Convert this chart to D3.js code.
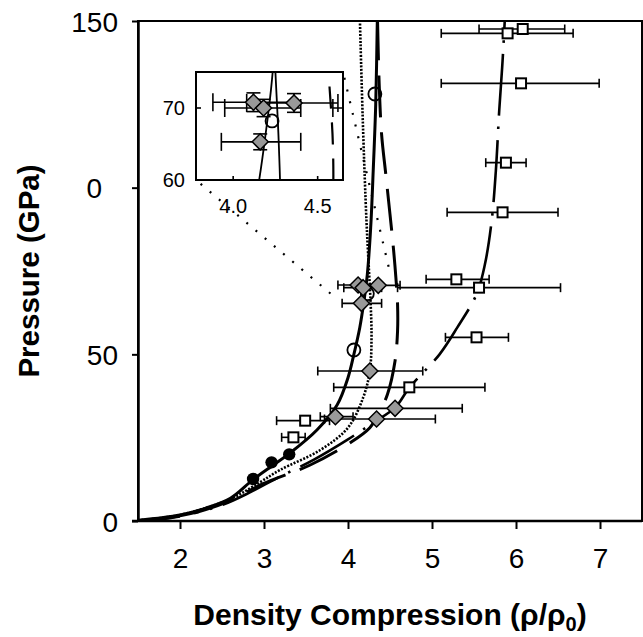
<!DOCTYPE html>
<html><head><meta charset="utf-8">
<script src="https://cdn.jsdelivr.net/npm/d3@7"></script>
<style>body{margin:0;background:#fff} text{font-family:"Liberation Sans",Arial,Helvetica,sans-serif;fill:#000}</style>
</head><body><svg id="c" width="643" height="637"></svg>
<script>
// ---------- data ----------
const xTicks = [2, 3, 4, 5, 6, 7];
const yTicks = [0, 50, 100, 150];
const yTickLabels = ["0", "50", "0", "150"];
const insetXTicks = [4.0, 4.5];
const insetXTickLabels = ["4.0", "4.5"];
const insetYTicks = [60, 70];
const insetYTickLabels = ["60", "70"];

// model curves [density, pressure]
const curveSolid = [[1.5,0.2],[2.0,1.8],[2.3,3.8],[2.6,6.8],[2.87,12.4],[3.1,16.6],[3.3,20.2],[3.63,27.3],[3.87,34.8],[4.0,43],[4.07,50],[4.14,58],[4.19,66],[4.23,74],[4.27,88],[4.30,105],[4.33,125],[4.35,152]];
const curveDotted = [[1.5,0.2],[2.0,1.8],[2.6,6.6],[2.95,11.6],[3.19,15.3],[3.67,21.3],[4.0,28],[4.18,37],[4.26,45],[4.28,55],[4.27,65],[4.25,75],[4.22,90],[4.18,117],[4.14,152]];
const curveLongDash = [[1.5,0],[2.0,1.4],[2.55,5.6],[2.99,11.2],[3.55,16.8],[4.02,23.4],[4.26,28],[4.38,33],[4.47,38],[4.56,48],[4.59,57],[4.59,65],[4.57,73],[4.54,82],[4.50,92],[4.45,104],[4.40,116],[4.37,132],[4.35,152]];
const curveDashDot = [[1.5,0],[2.0,1.5],[2.5,4.8],[2.85,8.8],[3.15,12.8],[3.6,18.5],[4.0,24.5],[4.3,29.5],[4.56,34],[4.73,40],[5.09,50],[5.3,58],[5.53,68],[5.63,77],[5.71,90],[5.76,105],[5.80,123],[5.84,138],[5.87,152]];

// data sets
const diamondX   = [4.12, 4.18, 4.36, 4.16, 4.26, 4.56, 3.85, 4.34];
const diamondY   = [70.8, 70.0, 70.7, 65.3, 45.0, 33.8, 31.3, 30.6];
const diamondXlo = [3.88, 3.95, 4.08, 3.93, 3.64, 3.79, 3.67, 3.72];
const diamondXhi = [4.36, 4.40, 4.62, 4.40, 4.89, 5.36, 4.06, 5.04];
const diamondYerr= [1.3, 1.2, 1.3, 1.1, 1.2, 1.2, 1.2, 1.2];

const squareX   = [6.08, 5.90, 6.06, 5.88, 5.84, 5.29, 5.56, 5.53, 4.73, 3.49, 3.35];
const squareY   = [147.6, 146.3, 131.3, 107.5, 92.6, 72.5, 70.0, 55.1, 40.1, 30.1, 25.1];
const squareXlo = [5.56, 5.11, 5.11, 5.64, 5.18, 4.93, 4.59, 5.16, 3.83, 3.15, 3.21];
const squareXhi = [6.58, 6.68, 6.99, 6.12, 6.50, 5.68, 6.53, 5.91, 5.63, 3.78, 3.49];

const filledX = [2.87, 3.09, 3.30];
const filledY = [12.6, 17.6, 20.0];

const openX = [4.07, 4.23, 4.32];
const openY = [51.3, 68.2, 128.1];

// inset connector targets in main-chart data coordinates
const connectorMain = [[3.85, 67.0], [4.50, 74.5]];

// ---------- drawing ----------
const svg = d3.select("#c");
const L = 138, R = 642, T = 21, B = 521;
const x = d3.scaleLinear().domain([1.5, 7.5]).range([L, R]);
const y = d3.scaleLinear().domain([0, 150]).range([B, T]);

svg.append("defs").append("clipPath").attr("id","clipMain")
  .append("rect").attr("x",L).attr("y",T).attr("width",R-L).attr("height",B-T);

const line = (sx, sy) => d3.line().x(d=>sx(d[0])).y(d=>sy(d[1])).curve(d3.curveCatmullRom.alpha(0.5));

const curves = [
  {d: curveDashDot, w: 2.6, dash: "62,11,2.5,11"},
  {d: curveLongDash, w: 3, dash: "42,15"},
  {d: curveDotted, w: 2.6, dash: "2,1.5"},
  {d: curveSolid, w: 3, dash: null}
];

function drawCurves(g, sx, sy, list) {
  list.forEach(c => {
    g.append("path").attr("d", line(sx, sy)(c.d)).attr("fill","none")
      .attr("stroke","#000").attr("stroke-width", c.w)
      .attr("stroke-dasharray", c.dash);
  });
}

function drawPoints(g, sx, sy, cap, showY, yCap) {
  const eb = g.append("g").attr("stroke","#000").attr("stroke-width",1.6).attr("fill","none");
  const bars = [];
  squareX.forEach((v,i)=>bars.push({y:squareY[i], lo:squareXlo[i], hi:squareXhi[i]}));
  diamondX.forEach((v,i)=>bars.push({y:diamondY[i], lo:diamondXlo[i], hi:diamondXhi[i]}));
  bars.forEach(b=>{
    eb.append("line").attr("x1",sx(b.lo)).attr("x2",sx(b.hi)).attr("y1",sy(b.y)).attr("y2",sy(b.y));
    [b.lo,b.hi].forEach(e=>eb.append("line").attr("x1",sx(e)).attr("x2",sx(e))
      .attr("y1",sy(b.y)-cap/2).attr("y2",sy(b.y)+cap/2));
  });
  if (showY) {
    diamondX.forEach((v,i)=>{
      const x0 = sx(v), ya = sy(diamondY[i]-diamondYerr[i]), yb = sy(diamondY[i]+diamondYerr[i]);
      eb.append("line").attr("x1",x0).attr("x2",x0).attr("y1",ya).attr("y2",yb);
      [ya,yb].forEach(yy=>eb.append("line").attr("x1",x0-yCap/2).attr("x2",x0+yCap/2).attr("y1",yy).attr("y2",yy));
    });
  }
  g.selectAll(null).data(filledX).join("circle")
    .attr("cx",(d)=>sx(d)).attr("cy",(d,i)=>sy(filledY[i])).attr("r",6.2).attr("fill","#000");
  g.selectAll(null).data(openX).join("circle")
    .attr("cx",(d)=>sx(d)).attr("cy",(d,i)=>sy(openY[i])).attr("r",6.5)
    .attr("fill","none").attr("stroke","#000").attr("stroke-width",1.8);
  const s = 10;
  g.selectAll(null).data(squareX).join("rect")
    .attr("x",d=>sx(d)-s/2).attr("y",(d,i)=>sy(squareY[i])-s/2).attr("width",s).attr("height",s)
    .attr("fill","#fff").attr("stroke","#000").attr("stroke-width",2);
  const h = 8;
  g.selectAll(null).data(diamondX).join("path")
    .attr("d",(d,i)=>{const cx=sx(d), cy=sy(diamondY[i]);
      return `M${cx},${cy-h}L${cx+h},${cy}L${cx},${cy+h}L${cx-h},${cy}Z`;})
    .attr("fill","#999").attr("stroke","#000").attr("stroke-width",1.5);
}

const gMain = svg.append("g").attr("clip-path","url(#clipMain)");
drawCurves(gMain, x, y, curves);
drawPoints(gMain, x, y, 9, false, 0);

svg.append("rect").attr("x",L).attr("y",T).attr("width",R-L).attr("height",B-T)
  .attr("fill","none").attr("stroke","#000").attr("stroke-width",2);

const xAxis = svg.append("g").attr("transform",`translate(0,${B})`)
  .call(d3.axisBottom(x).tickValues(xTicks).tickSize(8).tickSizeOuter(0).tickFormat(d3.format("d")));
xAxis.select(".domain").attr("d",`M${L-6},0H${R}`).attr("stroke-width",2.5);
xAxis.selectAll(".tick line").attr("stroke-width",2);
xAxis.selectAll(".tick text").attr("font-size",28).attr("dy",0).attr("y",47)
  .style("font-family",'"Liberation Sans",Arial,sans-serif');

const yAxis = svg.append("g").attr("transform",`translate(${L},0)`)
  .call(d3.axisLeft(y).tickValues(yTicks).tickSize(6).tickSizeOuter(0).tickFormat((d,i)=>yTickLabels[i]));
yAxis.select(".domain").attr("stroke-width",2.5);
yAxis.selectAll(".tick line").attr("stroke-width",2);
yAxis.selectAll(".tick text").attr("font-size",28).attr("x",-20).attr("dy","0.36em")
  .style("font-family",'"Liberation Sans",Arial,sans-serif')
  .attr("dx",(d,i)=> i===2 ? -16 : 0);
svg.selectAll(".domain").attr("stroke","#000");

const xt = svg.append("text").attr("x",390).attr("y",625).attr("text-anchor","middle")
  .attr("font-size",30).attr("font-weight","bold");
xt.append("tspan").text("Density Compression (ρ/ρ");
xt.append("tspan").attr("font-size",20).attr("dy",6).text("0");
xt.append("tspan").attr("dy",-6).text(")");

svg.append("text").attr("transform","translate(39,271) rotate(-90)").attr("text-anchor","middle")
  .attr("font-size",29.5).attr("font-weight","bold").text("Pressure (GPa)");

// ---------- inset ----------
const IL = 196, IR = 343, IT = 72, IB = 180;
const xi = d3.scaleLinear().domain([3.78, 4.65]).range([IL, IR]);
const yi = d3.scaleLinear().domain([60, 75]).range([IB, IT]);

const insetCorners = [[xi.domain()[0], yi.domain()[0]], [xi.domain()[1], yi.domain()[1]]];
connectorMain.forEach((m,i)=>{
  svg.append("line").attr("x1",xi(insetCorners[i][0])).attr("y1",yi(insetCorners[i][1]))
    .attr("x2",x(m[0])).attr("y2",y(m[1]))
    .attr("stroke","#000").attr("stroke-width",2.2).attr("stroke-dasharray","2,10")
    .attr("stroke-dashoffset", -6);
});

svg.select("defs").append("clipPath").attr("id","clipInset")
  .append("rect").attr("x",IL).attr("y",IT).attr("width",IR-IL).attr("height",IB-IT);
svg.append("rect").attr("x",IL).attr("y",IT).attr("width",IR-IL).attr("height",IB-IT).attr("fill","#fff");
const gIn = svg.append("g").attr("clip-path","url(#clipInset)");
drawCurves(gIn, xi, yi, [
  {d: curveLongDash, w: 2.2, dash: "22,14"},
  {d: curveDotted, w: 1.8, dash: null},
  {d: curveSolid, w: 1.8, dash: null}
]);
drawPoints(gIn, xi, yi, 18, true, 14);
svg.append("rect").attr("x",IL).attr("y",IT).attr("width",IR-IL).attr("height",IB-IT)
  .attr("fill","none").attr("stroke","#000").attr("stroke-width",2);

const gi = svg.append("g").attr("stroke","#000").attr("stroke-width",1.6);
insetXTicks.forEach(t=>gi.append("line").attr("x1",xi(t)).attr("x2",xi(t)).attr("y1",IB).attr("y2",IB-4));
insetYTicks.forEach(t=>gi.append("line").attr("x1",IL).attr("x2",IL+5).attr("y1",yi(t)).attr("y2",yi(t)));
insetXTicks.forEach((t,i)=>svg.append("text").attr("x",xi(t)).attr("y",213).attr("text-anchor","middle")
  .attr("font-size",20).text(insetXTickLabels[i]));
insetYTicks.forEach((t,i)=>svg.append("text").attr("x",IL-11).attr("y",yi(t)).attr("dy","0.36em")
  .attr("text-anchor","end").attr("font-size",20).text(insetYTickLabels[i]));
</script></body></html>
